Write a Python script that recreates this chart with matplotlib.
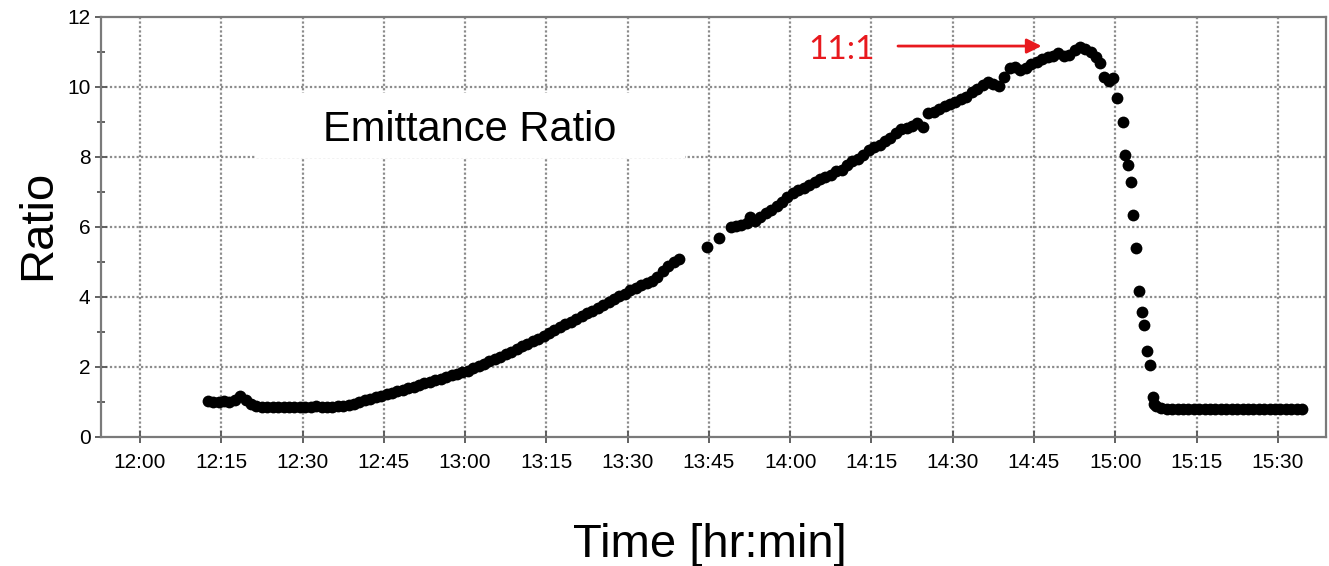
import numpy as np
import matplotlib
matplotlib.use("Agg")
import matplotlib.pyplot as plt
from matplotlib.patches import Rectangle

# ---------------- data (minutes after 12:00, ratio) ----------------
# segment 1: start, flat, slow rise up to ~13:39 (1-min sampling)
t_seg1 = np.arange(12.5, 100.0, 1.0)
r_seg1 = [1.03, 1.01, 1.00, 1.02, 0.99, 1.05, 1.17, 1.05, 0.93, 0.89,
          0.87, 0.86, 0.87, 0.86, 0.87, 0.85, 0.86, 0.87, 0.86, 0.87,
          0.88, 0.86, 0.87, 0.87, 0.88, 0.88, 0.91, 0.95, 1.00, 1.05,
          1.10, 1.13, 1.18, 1.22, 1.26, 1.31, 1.35, 1.40, 1.44, 1.48,
          1.53, 1.57, 1.62, 1.66, 1.71, 1.76, 1.80, 1.85, 1.90, 1.96,
          2.03, 2.10, 2.16, 2.23, 2.30, 2.37, 2.44, 2.52, 2.59, 2.66,
          2.74, 2.81, 2.89, 2.98, 3.06, 3.14, 3.22, 3.30, 3.38, 3.45,
          3.53, 3.61, 3.70, 3.78, 3.86, 3.94, 4.02, 4.10, 4.20, 4.27,
          4.33, 4.40, 4.46, 4.58, 4.75, 4.90, 5.00, 5.10]

# segment 2: after the gap, rise to the peak
t_seg2 = [104.6, 106.9, 109.0, 110.0, 111.0, 112.0, 112.6, 113.5, 114.5, 115.5,
          116.5, 117.5, 118.5, 119.5, 120.5, 121.5, 122.5, 123.5, 124.5, 125.5,
          126.5, 127.5, 128.5, 129.5, 130.5, 131.5, 132.5, 133.5, 134.5, 135.5,
          136.5, 137.5, 138.5, 139.5, 140.5, 141.5, 142.5, 143.5, 144.5, 145.5,
          146.5, 147.5, 148.5, 149.5, 150.5, 151.5, 152.5, 153.5, 154.5, 155.5,
          156.5, 157.5, 158.5, 159.5, 160.5, 161.5, 162.5, 163.5, 164.5, 165.5,
          166.5, 167.5, 168.5, 169.5, 170.5, 171.5, 172.5, 173.5, 174.5, 175.5,
          176.5, 177.2, 178.0, 178.8, 179.6]
r_seg2 = [5.42, 5.70, 6.00, 6.02, 6.05, 6.12, 6.28, 6.18, 6.30, 6.40,
          6.50, 6.60, 6.72, 6.85, 6.97, 7.05, 7.12, 7.20, 7.28, 7.36,
          7.42, 7.50, 7.60, 7.62, 7.78, 7.88, 7.95, 8.05, 8.20, 8.28,
          8.35, 8.45, 8.55, 8.68, 8.80, 8.83, 8.88, 8.98, 8.86, 9.25,
          9.30, 9.38, 9.45, 9.52, 9.58, 9.65, 9.72, 9.85, 9.95, 10.05,
          10.15, 10.10, 10.02, 10.30, 10.55, 10.58, 10.50, 10.55, 10.65, 10.72,
          10.80, 10.85, 10.90, 10.97, 10.88, 10.92, 11.05, 11.13, 11.10, 11.00,
          10.85, 10.70, 10.28, 10.18, 10.25]

# segment 3: steep drop
t_seg3 = [180.3, 181.4, 181.8, 182.3, 182.9, 183.3, 183.8, 184.4, 184.9, 185.3,
          185.8, 186.4, 186.9, 187.1]
r_seg3 = [9.69, 9.00, 8.06, 7.77, 7.29, 6.34, 5.40, 4.17, 3.57, 3.20,
          2.46, 2.06, 1.14, 0.95]

# segment 4: flat tail (1-min sampling)
t_seg4 = np.arange(187.5, 215.0, 1.0)
r_seg4 = [0.88, 0.82, 0.80, 0.81, 0.79, 0.80, 0.80, 0.81, 0.79, 0.80,
          0.81, 0.80, 0.79, 0.80, 0.81, 0.80, 0.80, 0.79, 0.81, 0.80,
          0.80, 0.81, 0.79, 0.80, 0.80, 0.81, 0.80, 0.81]

tick_minutes = [0, 15, 30, 45, 60, 75, 90, 105, 120, 135, 150, 165, 180, 195, 210]
tick_labels = ["12:00", "12:15", "12:30", "12:45", "13:00", "13:15", "13:30",
               "13:45", "14:00", "14:15", "14:30", "14:45", "15:00", "15:15", "15:30"]
y_ticks = [0, 2, 4, 6, 8, 10, 12]

peak_label = "11:1"
peak_level = 11.17

# ---------------- plotting ----------------
plt.rcParams['font.family'] = ['Liberation Sans', 'DejaVu Sans']

fig = plt.figure(figsize=(13.29, 5.66), dpi=100)
ax = fig.add_axes([101/1329, 1-437/566, (1326-101)/1329, (437-17)/566])

t_all = np.concatenate([t_seg1, t_seg2, t_seg3, t_seg4])
r_all = np.concatenate([r_seg1, r_seg2, r_seg3, r_seg4])

ax.set_xlim(-7.2, 218.9)
ax.set_ylim(0, 12)

grid_kw = dict(color='#8c8c8c', linestyle=(0, (1, 1)), linewidth=1.6, zorder=0.5)
for tm in tick_minutes:
    ax.axvline(tm, **grid_kw)
for yv in y_ticks[1:-1]:
    ax.axhline(yv, **grid_kw)

# white label box covering the grid
ax.add_patch(Rectangle((21.4, 7.96), 79.2, 1.88, facecolor='white',
                       edgecolor='none', zorder=1))
ax.text(60.8, 8.78, "Emittance Ratio", fontsize=30, ha='center', va='center',
        color='black', zorder=2)

ax.plot(t_all, r_all, linestyle='none', marker='o', markersize=8.5,
        color='black', markeredgewidth=0, zorder=3)

ax.set_xticks(tick_minutes)
ax.set_xticklabels(tick_labels)
ax.set_yticks(y_ticks)
ax.set_yticks([1, 3, 5, 7, 9, 11], minor=True)

for s in ax.spines.values():
    s.set_color('#7a7a7a')
    s.set_linewidth(1.6)

ax.tick_params(axis='both', which='major', direction='inout', length=9,
               width=1.3, color='#555555', labelsize=15, labelcolor='black')
ax.tick_params(axis='x', which='major', pad=7)
ax.tick_params(axis='y', which='major', pad=3)
ax.tick_params(axis='y', which='minor', direction='inout', length=6,
               width=1.3, color='#555555')

# 11:1 annotation
ax.annotate("", xy=(166.4, peak_level), xytext=(139.9, peak_level),
            arrowprops=dict(arrowstyle='-|>', color='#e8191e', lw=2,
                            mutation_scale=22, shrinkA=0, shrinkB=0), zorder=4)
ax.text(129.5, 11.05, peak_label, color='#e8191e', fontsize=24,
        family=['Lato', 'DejaVu Sans'], ha='center', va='center', zorder=4)

fig.text(38/1329, 1-225/566, "Ratio", rotation=90, fontsize=34,
         ha='center', va='center')
fig.text(710/1329, 1-545/566, "Time [hr:min]", fontsize=34,
         ha='center', va='center')

fig.savefig("out.png", dpi=100, facecolor='white')
